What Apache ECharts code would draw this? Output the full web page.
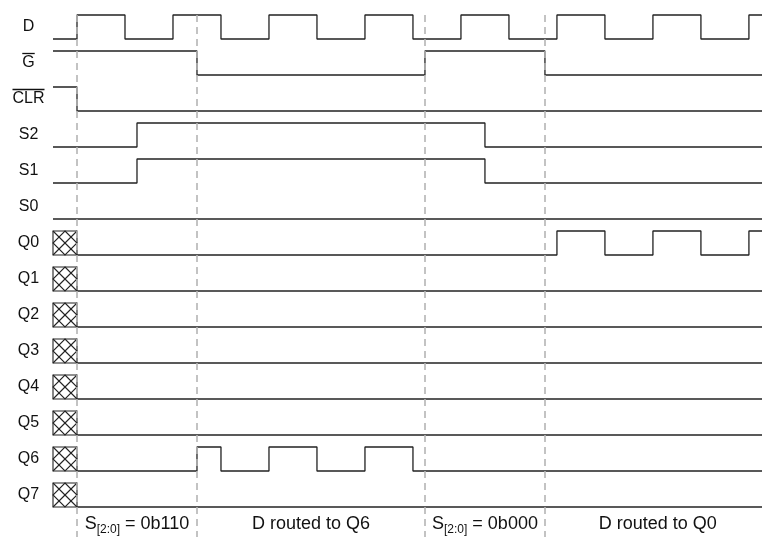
<!DOCTYPE html>
<html><head><meta charset="utf-8">
<script src="https://cdn.jsdelivr.net/npm/echarts@6/dist/echarts.min.js"></script>
<style>html,body{margin:0;padding:0;background:#fff}#c{width:762px;height:537px}</style>
</head><body><div id="c"></div>
<script>
// time unit = half of a quarter clock period; signals listed top to bottom
const signalNames = ['D', 'G', 'CLR', 'S2', 'S1', 'S0', 'Q0', 'Q1', 'Q2', 'Q3', 'Q4', 'Q5', 'Q6', 'Q7'];
const activeLowRows = [1, 2]; // names drawn with an overbar
// starting time, initial level, toggle times
const startTimes   = [0, 0, 0, 0, 0, 0, 2, 2, 2, 2, 2, 2, 2, 2];
const initLevels   = [0, 1, 1, 0, 0, 0, 0, 0, 0, 0, 0, 0, 0, 0];
const toggleD   = [2, 6, 10, 14, 18, 22, 26, 30, 34, 38, 42, 46, 50, 54, 58];
const toggleG   = [12, 31, 41];
const toggleCLR = [2];
const toggleS2  = [7, 36];
const toggleS1  = [7, 36];
const toggleS0  = [];
const toggleQ0  = [42, 46, 50, 54, 58];
const toggleQ6  = [12, 14, 18, 22, 26, 30];
const toggles = [toggleD, toggleG, toggleCLR, toggleS2, toggleS1, toggleS0,
  toggleQ0, [], [], [], [], [], toggleQ6, []];
const unknownRows = [6, 7, 8, 9, 10, 11, 12, 13]; // hatched (undefined) at start
const unknownSpan = [0, 2];
const markerTimes = [2, 12, 31, 41];
const phaseLabels = [
  '{t|S}{s|[2:0]}{t| = 0b110}',
  '{t|D routed to Q6}',
  '{t|S}{s|[2:0]}{t| = 0b000}',
  '{t|D routed to Q0}'
];
const phaseCenters = [7, 21.5, 36, 50.4];

const T_END = 59.09;
const ROW_STEP = 3, AMP = 2;
const base = k => -ROW_STEP * k;
const FONT = 'Liberation Sans, Arial, sans-serif';

const waveSeries = signalNames.map((name, k) => {
  let lvl = initLevels[k];
  const pts = [[startTimes[k], base(k) + lvl * AMP]];
  toggles[k].forEach(t => {
    pts.push([t, base(k) + lvl * AMP]);
    lvl = 1 - lvl;
    pts.push([t, base(k) + lvl * AMP]);
  });
  pts.push([T_END, base(k) + lvl * AMP]);
  return {
    type: 'line', name: name, data: pts, showSymbol: false, symbol: 'none',
    lineStyle: { color: '#222', width: 1.3 }, silent: true, animation: false,
    xAxisIndex: 0, yAxisIndex: 0, z: 3
  };
});

const hatchSeries = {
  type: 'custom', xAxisIndex: 0, yAxisIndex: 0, animation: false, silent: true, z: 4,
  data: unknownRows.map(k => [unknownSpan[0], unknownSpan[1], base(k), base(k) + AMP]),
  renderItem: (params, api) => {
    const p0 = api.coord([api.value(0), api.value(3)]);
    const p1 = api.coord([api.value(1), api.value(2)]);
    const x0 = p0[0], y0 = p0[1], x1 = p1[0], y1 = p1[1];
    const mx = (x0 + x1) / 2, my = (y0 + y1) / 2;
    const st = { stroke: '#222', lineWidth: 1.1, fill: null };
    return {
      type: 'group', children: [
        { type: 'rect', shape: { x: x0, y: y0, width: x1 - x0, height: y1 - y0 }, style: Object.assign({}, st, { fill: '#fff' }) },
        { type: 'line', shape: { x1: x0, y1: y0, x2: x1, y2: y1 }, style: st },
        { type: 'line', shape: { x1: x0, y1: y1, x2: x1, y2: y0 }, style: st },
        { type: 'polygon', shape: { points: [[mx, y0], [x1, my], [mx, y1], [x0, my]] }, style: st }
      ]
    };
  }
};

const markerSeries = {
  type: 'line', data: [], xAxisIndex: 0, yAxisIndex: 0, silent: true, animation: false, z: 1,
  markLine: {
    symbol: ['none', 'none'], silent: true, animation: false, label: { show: false },
    lineStyle: { color: '#b5b5b5', width: 1.6, type: [7, 5] },
    data: markerTimes.map(t => [{ coord: [t, 2] }, { coord: [t, -41.5] }])
  }
};

const textSeries = {
  type: 'custom', xAxisIndex: 0, yAxisIndex: 0, animation: false, silent: true, z: 5,
  data: phaseCenters.map((c, i) => [c, -40.46, i]),
  renderItem: (params, api) => {
    const p = api.coord([api.value(0), api.value(1)]);
    return {
      type: 'text', x: p[0], y: p[1],
      style: {
        text: phaseLabels[api.value(2)], align: 'center', verticalAlign: 'middle',
        rich: {
          t: { fontSize: 18, fontFamily: FONT, fill: '#111', verticalAlign: 'middle', lineHeight: 20 },
          s: { fontSize: 12, fontFamily: FONT, fill: '#111', padding: [10, 0, 0, 0], lineHeight: 20 }
        }
      }
    };
  }
};

// overbars for active-low signal names, measured from the rendered label text
function overbars(chart) {
  const yAx = chart.getModel().getComponent('yAxis', 1).axis;
  const grid = chart.getModel().getComponent('grid', 1).coordinateSystem.getRect();
  const cx = grid.x - 24.5;
  return activeLowRows.map(k => {
    const w = echarts.format.getTextRect
      ? echarts.format.getTextRect(signalNames[k], '16px ' + FONT).width
      : signalNames[k].length * 11;
    const yc = yAx.toGlobalCoord(yAx.dataToCoord(k));
    return {
      type: 'line', silent: true, z: 10,
      shape: { x1: cx - w / 2, y1: yc - 9.5, x2: cx + w / 2, y2: yc - 9.5 },
      style: { stroke: '#111', lineWidth: 1.3 }
    };
  });
}

const option = {
  animation: false,
  backgroundColor: '#fff',
  grid: [
    { left: 53, right: 0, top: 0, bottom: 0 },
    { left: 53, right: 0, top: 9, height: 504 }
  ],
  xAxis: [
    { type: 'value', gridIndex: 0, min: 0, max: T_END, show: false },
    { type: 'value', gridIndex: 1, min: 0, max: 1, show: false }
  ],
  yAxis: [
    { type: 'value', gridIndex: 0, min: -41.5, max: 3.25, show: false },
    {
      type: 'category', gridIndex: 1, inverse: true, data: signalNames,
      axisLine: { show: false }, axisTick: { show: false }, splitLine: { show: false },
      axisLabel: { margin: 24.5, align: 'center', fontSize: 16, color: '#111', fontFamily: FONT }
    }
  ],
  series: [markerSeries].concat(waveSeries, [hatchSeries, textSeries])
};
const chart = echarts.init(document.getElementById('c'), null, { renderer: 'canvas' });
chart.setOption(option);
chart.setOption({ graphic: overbars(chart) });
</script>
</body></html>
